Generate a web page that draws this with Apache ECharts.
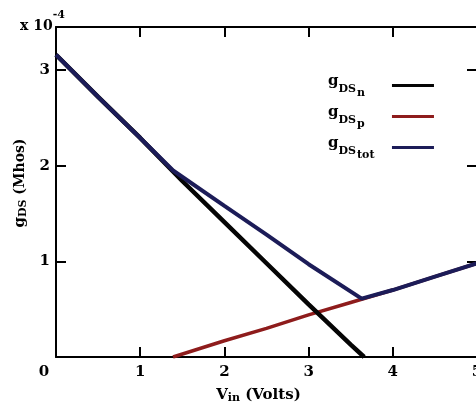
<!DOCTYPE html>
<html>
<head>
<meta charset="utf-8">
<script src="https://cdn.jsdelivr.net/npm/echarts@6/dist/echarts.min.js"></script>
<style>
html,body{margin:0;padding:0;background:#fff;}
#main{width:476px;height:405px;}
</style>
</head>
<body>
<div id="main"></div>
<script>
// gDS values in units of 1e-4 Mhos
var vinN = [0, 0.5, 1, 1.5, 2, 2.5, 3, 3.5, 3.66];
var gdsN = [3.16, 2.72, 2.29, 1.84, 1.41, 0.98, 0.55, 0.13, 0];
var vinP = [1.39, 2, 2.5, 3, 3.5, 4, 4.5, 5];
var gdsP = [0, 0.17, 0.30, 0.44, 0.57, 0.70, 0.84, 0.98];
var vinTot = [0, 0.5, 1, 1.39, 2, 2.5, 3, 3.63, 4, 4.5, 5];
var gdsTot = [3.16, 2.72, 2.29, 1.95, 1.58, 1.28, 0.97, 0.61, 0.70, 0.84, 0.98];
var names = ['gDSn', 'gDSp', 'gDStot'];
var subs = ['n', 'p', 'tot'];
var xRange = [0, 5];
var yRange = [0, 3.45];

var serif = 'DejaVu Serif';

function pairs(xs, ys){
	var out = [];
	for(var i=0;i<xs.length;i++){
		out.push([xs[i], ys[i]]);
	}
	return out;
}

function axisLine(show){
	return {show: show, onZero: false, lineStyle: {color: '#000', width: 2}};
}
function axisTick(){
	return {show: true, inside: true, length: 10, lineStyle: {color: '#000', width: 2}};
}

var myChart = echarts.init(document.getElementById('main'));

option = {
	backgroundColor: '#fff',
	animation: false,
	title: {
		text: '{a|x 10}{b|-4}',
		left: 15,
		top: 4,
		textStyle: {
			rich: {
				a: {fontFamily: serif, fontWeight: 'bold', fontSize: 14, color: '#000', padding: [10, 0, 0, 0]},
				b: {fontFamily: serif, fontWeight: 'bold', fontSize: 11, color: '#000', padding: [0, 0, 12, 0]}
			}
		}
	},
	grid: {
		left: 56,
		top: 27,
		width: 421,
		height: 330,
		outerBoundsMode: 'none'
	},
	legend: {
		orient: 'vertical',
		align: 'right',
		left: 323,
		top: 69,
		itemWidth: 42,
		itemHeight: 3,
		itemGap: 6,
		data: names,
		itemStyle: {opacity: 0},
		lineStyle: {width: 3},
		formatter: function(name){
			return '{g|g}{ds|DS}{s|' + subs[names.indexOf(name)] + '}';
		},
		textStyle: {
			rich: {
				g: {fontFamily: serif, fontWeight: 'bold', fontSize: 15, color: '#000', align: 'left', padding: [0, 0, 8, 0]},
				ds: {fontFamily: serif, fontWeight: 'bold', fontSize: 11, color: '#000', align: 'left', padding: [8, 0, 0, 0]},
				s: {fontFamily: serif, fontWeight: 'bold', fontSize: 11, color: '#000', width: 30, align: 'left', padding: [16, 0, 0, 1]}
			}
		}
	},
	xAxis: [{
		type: 'value',
		min: xRange[0],
		max: xRange[1],
		interval: 1,
		name: '{v|V}{i|in}{u| (Volts)}',
		nameLocation: 'middle',
		nameGap: 30,
		nameTextStyle: {
			padding: [0, 16, 0, 0],
			rich: {
				v: {fontFamily: serif, fontWeight: 'bold', fontSize: 15, color: '#000'},
				i: {fontFamily: serif, fontWeight: 'bold', fontSize: 11, color: '#000', padding: [6, 0, 0, 0]},
				u: {fontFamily: serif, fontWeight: 'bold', fontSize: 15, color: '#000'}
			}
		},
		axisLine: axisLine(true),
		axisTick: axisTick(),
		splitLine: {show: false},
		axisLabel: {
			margin: 8,
			color: '#000',
			fontFamily: serif,
			fontWeight: 'bold',
			fontSize: 15,
			formatter: function(v){ return v === 0 ? '{z|0}' : '' + v; },
			rich: {z: {fontFamily: serif, fontWeight: 'bold', fontSize: 15, color: '#000', padding: [0, 24, 0, 0]}}
		}
	}, {
		type: 'value',
		position: 'top',
		min: xRange[0],
		max: xRange[1],
		interval: 1,
		axisLine: axisLine(true),
		axisTick: axisTick(),
		axisLabel: {show: false},
		splitLine: {show: false}
	}],
	yAxis: [{
		type: 'value',
		min: yRange[0],
		max: yRange[1],
		interval: 1,
		name: '{g|g}{ds|DS}{u| (Mhos)}',
		nameLocation: 'middle',
		nameGap: 26,
		nameTextStyle: {
			padding: [0, 0, 0, 18],
			rich: {
				g: {fontFamily: serif, fontWeight: 'bold', fontSize: 15, color: '#000'},
				ds: {fontFamily: serif, fontWeight: 'bold', fontSize: 11, color: '#000', padding: [6, 0, 0, 0]},
				u: {fontFamily: serif, fontWeight: 'bold', fontSize: 14, color: '#000'}
			}
		},
		axisLine: axisLine(true),
		axisTick: axisTick(),
		splitLine: {show: false},
		axisLabel: {
			margin: 6,
			color: '#000',
			fontFamily: serif,
			fontWeight: 'bold',
			fontSize: 15,
			showMinLabel: false,
			showMaxLabel: false
		}
	}, {
		type: 'value',
		position: 'right',
		min: yRange[0],
		max: yRange[1],
		interval: 1,
		axisLine: axisLine(false),
		axisTick: axisTick(),
		axisLabel: {show: false},
		splitLine: {show: false}
	}],
	series: [{
		name: names[1],
		type: 'line',
		symbol: 'none',
		legendIcon: 'rect',
		clip: true,
		z: 2,
		data: pairs(vinP, gdsP),
		itemStyle: {color: '#8e1c1c'},
		lineStyle: {color: '#8e1c1c', width: 3.5}
	}, {
		name: names[0],
		type: 'line',
		symbol: 'none',
		legendIcon: 'rect',
		clip: true,
		z: 3,
		data: pairs(vinN, gdsN),
		itemStyle: {color: '#050505'},
		lineStyle: {color: '#050505', width: 4.5}
	}, {
		name: names[2],
		type: 'line',
		symbol: 'none',
		legendIcon: 'rect',
		clip: true,
		z: 4,
		data: pairs(vinTot, gdsTot),
		itemStyle: {color: '#1c1c58'},
		lineStyle: {color: '#1c1c58', width: 4}
	}]
};
myChart.setOption(option);
</script>
</body>
</html>
